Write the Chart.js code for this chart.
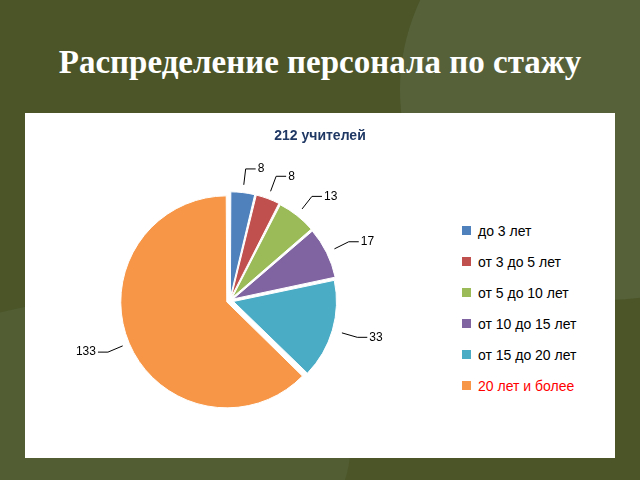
<!DOCTYPE html>
<html><head><meta charset="utf-8">
<script src="https://cdn.jsdelivr.net/npm/chart.js@4.4.0/dist/chart.umd.min.js"></script>
<style>
body{margin:0;width:640px;height:480px;background:#4b5528;overflow:hidden;position:relative;font-family:"Liberation Serif",serif}
#bg1{position:absolute;left:400px;top:-120px;width:420px;height:420px;border-radius:50%;background:#56613a}
#bg2{position:absolute;left:-150px;top:300px;width:500px;height:300px;border-radius:50%;background:#525d33}
h1{position:absolute;left:0;width:640px;top:44px;margin:0;text-align:center;color:#fff;font-size:33px;font-weight:bold}
#panel{position:absolute;left:25px;top:113px;width:590px;height:345px;background:#fff}
#c{position:absolute;left:0;top:0}
#title{position:absolute;left:0;width:590px;top:14px;text-align:center;color:#1f3864;font:bold 14px "Liberation Sans",sans-serif}
#legend{position:absolute;left:437px;top:102px;font:14px "Liberation Sans",sans-serif}
#legend div{height:31px;display:flex;align-items:center}
#legend span{display:inline-block;width:9px;height:9px;margin-right:7px}
</style></head><body>
<div id="bg1"></div><div id="bg2"></div>
<h1>Распределение персонала по стажу</h1>
<div id="panel"><canvas id="c" width="410" height="345"></canvas><div id="title">212 учителей</div><div id="legend"></div></div>
<script>
const labels = ["до 3 лет","от 3 до 5 лет","от 5 до 10 лет","от 10 до 15 лет","от 15 до 20 лет","20 лет и более"]
const values = [8, 8, 13, 17, 33, 133]
const colors = ["#4f81bd","#c0504d","#9bbb59","#8064a2","#4bacc6","#f79646"]
const labelColors = ["#000","#000","#000","#000","#000","#ff0000"]

document.getElementById("legend").innerHTML = labels.map((l, i) =>
    `<div style="color:${labelColors[i]}"><span style="background:${colors[i]}"></span>${l}</div>`).join("")

const leaderPlugin = {
    id: "leaders",
    afterDatasetsDraw(chart) {
        const ctx = chart.ctx
        const meta = chart.getDatasetMeta(0)
        ctx.save()
        ctx.font = "12px 'Liberation Sans', sans-serif"
        ctx.fillStyle = "#000"
        ctx.strokeStyle = "#000"
        meta.data.forEach((arc, i) => {
            const p = arc.getProps(["x","y","startAngle","endAngle","outerRadius"], true)
            const a = (p.startAngle + p.endAngle) / 2
            const off = chart.data.datasets[0].offset
            const cx = p.x + Math.cos(a) * off, cy = p.y + Math.sin(a) * off
            const r0 = p.outerRadius, r1 = p.outerRadius + 16
            const x0 = cx + Math.cos(a) * r0, y0 = cy + Math.sin(a) * r0
            const x1 = cx + Math.cos(a) * r1, y1 = cy + Math.sin(a) * r1
            const right = Math.cos(a) >= 0
            const x2 = x1 + (right ? 10 : -10)
            ctx.beginPath(); ctx.moveTo(x0, y0); ctx.lineTo(x1, y1); ctx.lineTo(x2, y1); ctx.stroke()
            ctx.textAlign = right ? "left" : "right"
            ctx.textBaseline = "middle"
            ctx.fillText(values[i], x2 + (right ? 2 : -2), y1)
        })
        ctx.restore()
    }
}

new Chart(document.getElementById("c"), {
    type: "pie",
    data: {
        labels: labels,
        datasets: [{
            data: values,
            backgroundColor: colors,
            borderColor: "#fff",
            borderWidth: 1,
            offset: 14
        }]
    },
    options: {
        responsive: false,
        animation: false,
        layout: { padding: { top: 70, bottom: 40, left: 95, right: 95 } },
        plugins: {
            legend: { display: false },
            tooltip: { enabled: false }
        }
    },
    plugins: [leaderPlugin]
})
</script>
</body></html>
